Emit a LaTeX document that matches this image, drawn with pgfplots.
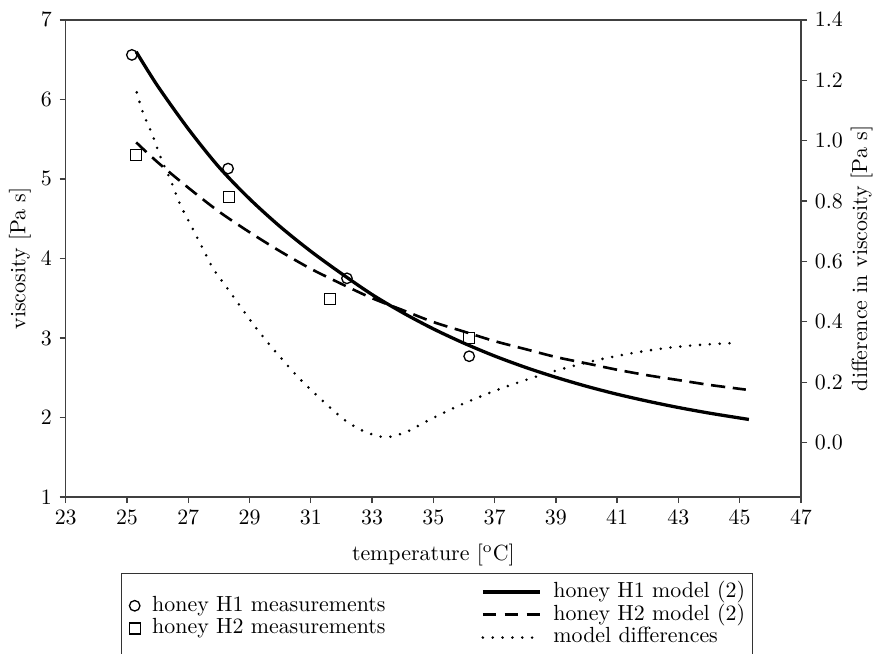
\documentclass[border=0pt]{standalone}
\usepackage{pgfplots}
\pgfplotsset{compat=1.18}
\usetikzlibrary{calc}

% right-axis curve: difference between the two models
\pgfplotstableread{
x      d
25.32  1.160
25.53  1.090
25.81  1.025
26.08  0.950
26.46  0.860
26.73  0.790
27.06  0.725
27.49  0.640
27.82  0.575
28.25  0.515
28.85  0.430
29.25  0.375
29.69  0.320
30.16  0.265
30.65  0.210
31.14  0.162
31.63  0.116
32.17  0.070
32.79  0.035
33.45  0.018
34.11  0.035
34.73  0.068
35.36  0.100
35.98  0.129
37.07  0.174
38.15  0.212
39.24  0.245
40.33  0.273
41.42  0.295
42.50  0.312
43.59  0.323
44.81  0.330
}\diffdata

\begin{document}
\begin{tikzpicture}
\pgfplotsset{
  twin/.style={
    scale only axis, width=335.7pt, height=217.8pt,
    xmin=23, xmax=47,
    axis line style={black!75, line width=0.6pt},
    major tick style={black!75, line width=0.6pt},
    major tick length=2.8pt,
    tick align=outside,
    legend cell align=left,
  },
  legstyle/.style={
    draw=none, fill=none, anchor=west,
    inner xsep=0pt, inner ysep=0pt,
    column sep=4.5pt, row sep=0pt,
    nodes={inner sep=1pt, text height=6.6pt, text depth=1.8pt},
  },
}
\begin{axis}[twin,
    ymin=1, ymax=7, ytick={1,...,7},
    xtick={23,25,...,47},
    xtick pos=left, ytick pos=left,
    xlabel={temperature [$^{\mathrm{o}}$C]},
    ylabel={viscosity [Pa s]},
    every axis x label/.style={at={(axis description cs:0.5,-0.122)}, anchor=center},
    every axis y label/.style={at={(axis description cs:-0.0623,0.5)}, rotate=90, anchor=center},
    legend style={legstyle, at={(axis description cs:0.0858,-0.252)}},
    legend image code/.code={\draw[#1] plot coordinates {(0pt,0pt)};},
]
\addplot[black, only marks, mark=o, mark size=2.4pt, mark options={line width=0.6pt}]
  coordinates {(25.16,6.56) (28.30,5.13) (32.18,3.75) (36.17,2.77)};
\addplot[black, only marks, mark=square, mark size=2.5pt, mark options={line width=0.6pt}]
  coordinates {(25.29,5.30) (28.34,4.77) (31.63,3.49) (36.17,3.00)};
\addplot[black, line width=1.5pt, smooth, no marks] coordinates {
  (25.3,6.60) (26,6.17) (27,5.63) (28,5.15) (29,4.75) (30,4.40) (31,4.09)
  (32,3.81) (33,3.546) (34,3.318) (35,3.114) (36,2.934) (37,2.773) (38,2.631)
  (39,2.505) (40,2.392) (41,2.292) (42,2.204) (43,2.125) (44,2.055) (45,1.993) (45.3,1.975)};
\addplot[black, line width=1.2pt, dash pattern=on 6.5pt off 3.5pt, smooth, no marks] coordinates {
  (25.3,5.46) (26,5.21) (27,4.89) (28,4.59) (29,4.33) (30,4.09) (31,3.87)
  (32,3.68) (33,3.50) (34,3.35) (35,3.20) (36,3.08) (37,2.96) (38,2.86)
  (39,2.76) (40,2.68) (41,2.60) (42,2.53) (43,2.47) (44,2.41) (45,2.36) (45.2,2.35)};
\legend{honey H1 measurements, honey H2 measurements}
\coordinate (bl) at (rel axis cs:0,0);
\coordinate (tr) at (rel axis cs:1,1);
\end{axis}

\begin{axis}[twin,
    axis x line=none, axis y line*=right,
    ymin=-0.18, ymax=1.4,
    ytick={0,0.2,0.4,0.6,0.8,1.0,1.2,1.4},
    yticklabel style={/pgf/number format/.cd, fixed, fixed zerofill, precision=1},
    ylabel={difference in viscosity [Pa s]},
    every axis y label/.style={at={(axis description cs:1.0825,0.5)}, rotate=90, anchor=center},
    clip=false,
    legend style={legstyle, at={(axis description cs:0.5645,-0.247)}},
    legend image code/.code={\draw[#1] (0pt,0pt) -- (26pt,0pt);},
]
\addlegendimage{black, line width=1.5pt}
\addlegendentry{honey H1 model (2)}
\addlegendimage{black, line width=1.2pt, dash pattern=on 6pt off 4pt}
\addlegendentry{honey H2 model (2)}
\addplot[black, line width=1.3pt, line cap=round, dash pattern=on 0pt off 4.5pt, smooth, no marks]
  table[x=x, y=d] {\diffdata};
\addlegendentry{model differences}
\draw[black!80, line width=0.6pt] (axis description cs:0.0762,-0.160) rectangle (axis description cs:0.934,-0.42);
\end{axis}

\pgfresetboundingbox
\useasboundingbox ($(bl)+(-30pt,-71.7pt)$) rectangle ($(tr)+(33.8pt,9.1pt)$);
\end{tikzpicture}
\end{document}
